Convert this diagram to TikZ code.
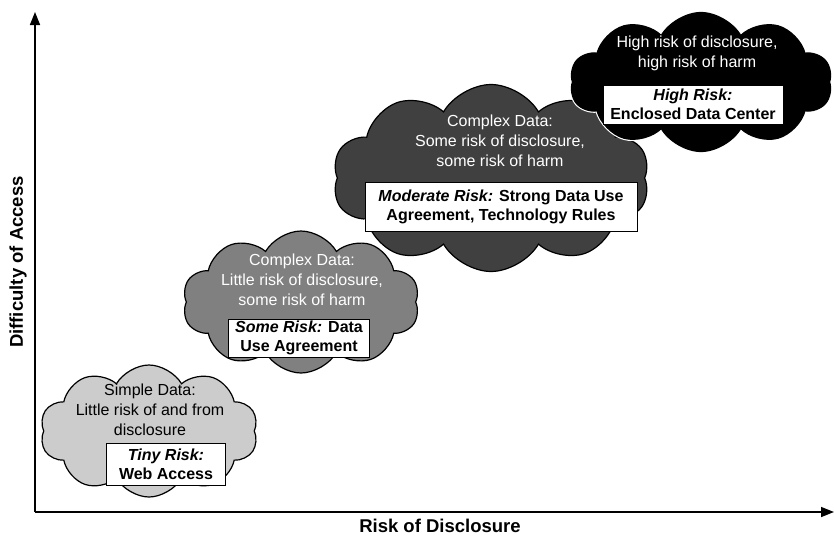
\documentclass[tikz,border=0pt]{standalone}
\usepackage{fontspec}
\setmainfont{Liberation Sans}
\usetikzlibrary{shapes.symbols,arrows.meta}
\begin{document}
\begin{tikzpicture}[x=1pt,y=-1pt,
  puff/.style={cloud, cloud puffs=10, cloud puff arc=120,
    draw=black, line width=1.2pt, inner sep=0pt,
    preaction={draw=white, line width=3.5pt}},
  cloudtext/.style={align=center, font=\fontsize{16}{19.8}\selectfont},
  riskbox/.style={draw=black, line width=1pt, fill=white, align=center, inner sep=0pt,
    font=\fontsize{16}{19}\selectfont\bfseries},
  axis/.style={line width=1.5pt, -{Triangle[length=13pt,width=10pt]}},
  axislabel/.style={font=\fontsize{18.5}{22}\selectfont\bfseries}]
\useasboundingbox (0,0) rectangle (834,536);

% axes
\coordinate (origin) at (35,512);
\coordinate (ytip) at (35,12);
\coordinate (xtip) at (834,512);
\draw[axis] (origin) -- (ytip);
\draw[axis] (origin) -- (xtip);
\node[axislabel, rotate=90] (ylab) at (18,262) {Difficulty of Access};
\node[axislabel] (xlab) at (440,526) {Risk of Disclosure};

% tiny risk
\node[puff, fill=black!20, minimum width=218pt, minimum height=132pt] (c1) at (149,431) {};
\node[cloudtext, text=black] (t1) at (150,410) {Simple Data:\\Little risk of and from\\disclosure};
\node[riskbox, minimum width=119pt, minimum height=42pt] (b1) at (166,464) {\textit{Tiny Risk:}\\Web Access};

% some risk
\node[puff, fill=black!50, minimum width=237pt, minimum height=142pt] (c2) at (301,302) {};
\node[cloudtext, text=white] (t2) at (302,280) {Complex Data:\\Little risk of disclosure,\\some risk of harm};
\node[riskbox, minimum width=141pt, minimum height=38pt] (b2) at (299,338) {\textit{Some Risk:} Data\\Use Agreement};

% moderate risk
\node[puff, fill=black!75, minimum width=317pt, minimum height=187pt] (c3) at (491,178) {};
\node[cloudtext, text=white] (t3) at (500,141) {Complex Data:\\Some risk of disclosure,\\some risk of harm};
\node[riskbox, minimum width=272pt, minimum height=49pt] (b3) at (501,207) {\textit{Moderate Risk:} Strong Data Use\\Agreement, Technology Rules};

% high risk
\node[puff, fill=black, minimum width=262pt, minimum height=139pt] (c4) at (701,82) {};
\node[cloudtext, text=white] (t4) at (697,53) {High risk of disclosure,\\high risk of harm};
\node[riskbox, minimum width=180pt, minimum height=39pt] (b4) at (693,104.5) {\textit{High Risk:}\\Enclosed Data Center};
\end{tikzpicture}
\end{document}
